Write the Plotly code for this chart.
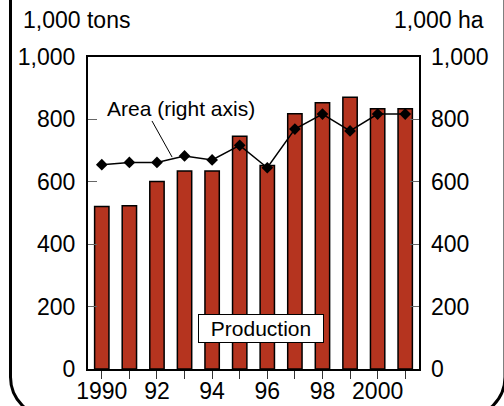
import plotly.graph_objects as go

years = [1990, 1991, 1992, 1993, 1994, 1995, 1996, 1997, 1998, 1999, 2000, 2001]
production = [521, 523, 601, 635, 635, 746, 652, 818, 853, 871, 834, 834]
area = [655, 662, 662, 683, 670, 717, 645, 769, 817, 763, 817, 817]
xtick_text = ["1990", "", "92", "", "94", "", "96", "", "98", "", "2000", ""]
ytick_vals = [0, 200, 400, 600, 800, 1000]
ytick_text = ["0", "200", "400", "600", "800", "1,000"]

W, H = 504, 406
L, R, T, B = 88, 85, 57, 37
PW, PH = W - L - R, H - T - B

def px(x):
    return (x - L) / PW

def py(y):
    return (H - B - y) / PH

FONT = "Liberation Sans, Arial, sans-serif"
TICK = 23

fig = go.Figure()
fig.add_trace(go.Bar(
    x=years, y=production, width=0.52,
    marker=dict(color="#B5341F", line=dict(color="black", width=1.5)),
    showlegend=False, yaxis="y",
))
fig.add_trace(go.Scatter(
    x=years, y=area, mode="lines+markers", yaxis="y2",
    line=dict(color="black", width=1.5),
    marker=dict(symbol="diamond", size=9, color="black"),
    showlegend=False,
))

# rounded frame
r = 40
k = 0.5523 * r
xl, xr, yb, yt = 10.5, 505, 417, -20
pts = [
    ("M", [(xl, yt)]),
    ("L", [(xl, yb - r)]),
    ("C", [(xl, yb - r + k), (xl + r - k, yb), (xl + r, yb)]),
    ("L", [(xr - r, yb)]),
    ("C", [(xr - r + k, yb), (xr, yb - r + k), (xr, yb - r)]),
    ("L", [(xr, yt)]),
]
path = " ".join(c + " " + " ".join(f"{px(a):.5f},{py(b):.5f}" for a, b in p) for c, p in pts)

fig.update_layout(
    width=W, height=H,
    margin=dict(l=L, r=R, t=T, b=B, pad=0, autoexpand=False),
    paper_bgcolor="white", plot_bgcolor="white",
    font=dict(family=FONT, size=21, color="black"),
    xaxis=dict(
        range=[1989.5, 2001.5], tickvals=years, ticktext=xtick_text,
        ticks="outside", ticklen=8, tickwidth=1, tickcolor="#333",
        showline=True, linecolor="black", linewidth=2, mirror=True,
        showgrid=False, zeroline=False, tickfont=dict(size=TICK),
        automargin=False, ticklabelstandoff=-8,
    ),
    yaxis=dict(
        range=[0, 1000], tickvals=ytick_vals, ticktext=ytick_text,
        ticks="inside", ticklen=9, tickwidth=1, tickcolor="#666",
        showline=True, linecolor="black", linewidth=2, mirror=True,
        showgrid=False, zeroline=False, tickfont=dict(size=TICK),
        ticklabelstandoff=6, automargin=False,
    ),
    yaxis2=dict(
        range=[0, 1000], tickvals=ytick_vals, ticktext=ytick_text,
        overlaying="y", side="right",
        ticks="inside", ticklen=9, tickwidth=1, tickcolor="#666",
        showline=False, showgrid=False, zeroline=False, tickfont=dict(size=TICK),
        ticklabelstandoff=11, automargin=False,
    ),
    shapes=[
        dict(type="path", xref="paper", yref="paper", path=path,
             line=dict(color="black", width=3), layer="above"),
        dict(type="line", xref="x", yref="y2", x0=1991.82, y0=795, x1=1992.55, y1=679,
             line=dict(color="black", width=1)),
    ],
    annotations=[
        dict(text="1,000 tons", xref="paper", yref="paper", x=px(21), y=py(20),
             xanchor="left", yanchor="middle", showarrow=False, font=dict(size=TICK)),
        dict(text="1,000 ha", xref="paper", yref="paper", x=px(486), y=py(20),
             xanchor="right", yanchor="middle", showarrow=False, font=dict(size=TICK)),
        dict(text="Area (right axis)", xref="x", yref="y2", x=1992.87, y=836,
             xanchor="center", yanchor="middle", showarrow=False, font=dict(size=21)),
        dict(text="Production", xref="x", yref="y", x=1995.77, y=131,
             xanchor="center", yanchor="middle", showarrow=False, font=dict(size=21),
             bgcolor="white", bordercolor="black", borderwidth=1, borderpad=3,
             width=118, height=21),
    ],
)

fig.write_html("out.html", config={"displayModeBar": False},
               post_script="document.body.style.margin='0';document.body.style.overflow='hidden';")
